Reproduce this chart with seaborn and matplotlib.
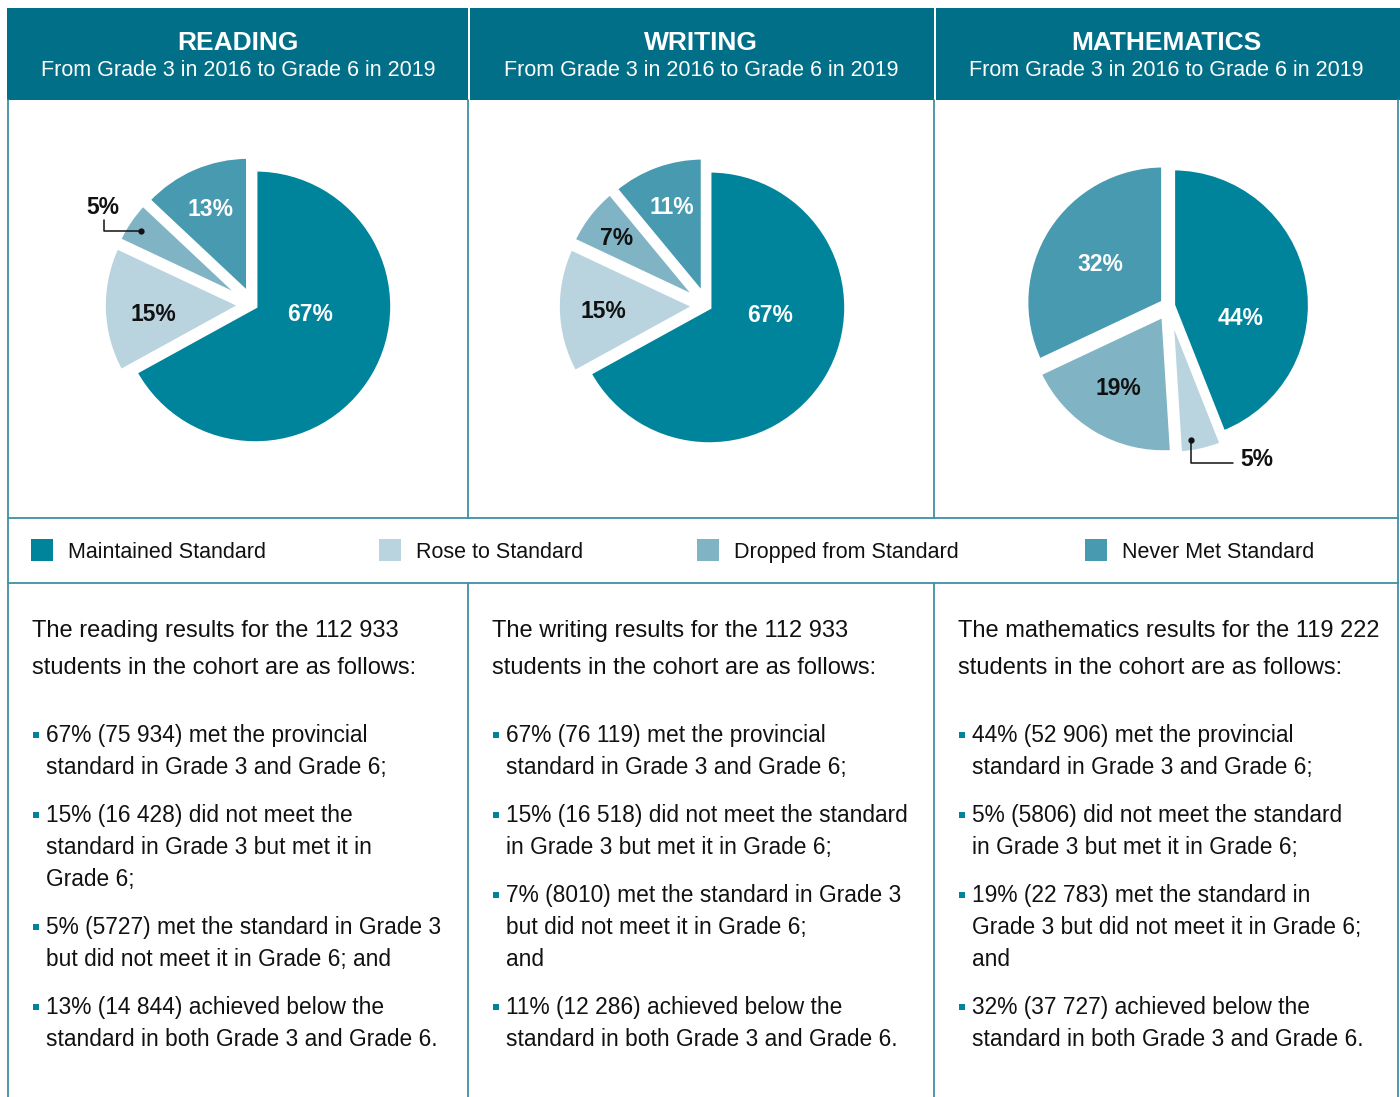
import numpy as np
import matplotlib.pyplot as plt
import matplotlib.patches as mpatches
import seaborn as sns

# ── Style ────────────────────────────────────────────────────
sns.set_theme(style="white")
plt.rcParams["font.family"] = ["Liberation Sans", "DejaVu Sans"]

HEADER = "#006F87"
LINE   = "#3F90A6"
COLORS = ["#00849C", "#B9D4DF", "#80B4C5", "#479AAF"]
LABEL_COLORS = ["white", "#111111", "#111111", "white"]

# ── Data ─────────────────────────────────────────────────────
subjects   = ["READING", "WRITING", "MATHEMATICS"]
subtitle   = "From Grade 3 in 2016 to Grade 6 in 2019"
categories = ["Maintained Standard", "Rose to Standard",
              "Dropped from Standard", "Never Met Standard"]
reading_pct = [67, 15, 5, 13]
writing_pct = [67, 15, 7, 11]
math_pct    = [44, 5, 19, 32]

reading_intro = ["The reading results for the 112 933",
                 "students in the cohort are as follows:"]
writing_intro = ["The writing results for the 112 933",
                 "students in the cohort are as follows:"]
math_intro    = ["The mathematics results for the 119 222",
                 "students in the cohort are as follows:"]

reading_bullets = [
    ["67% (75 934) met the provincial", "standard in Grade 3 and Grade 6;"],
    ["15% (16 428) did not meet the", "standard in Grade 3 but met it in", "Grade 6;"],
    ["5% (5727) met the standard in Grade 3", "but did not meet it in Grade 6; and"],
    ["13% (14 844) achieved below the", "standard in both Grade 3 and Grade 6."],
]
writing_bullets = [
    ["67% (76 119) met the provincial", "standard in Grade 3 and Grade 6;"],
    ["15% (16 518) did not meet the standard", "in Grade 3 but met it in Grade 6;"],
    ["7% (8010) met the standard in Grade 3", "but did not meet it in Grade 6;", "and"],
    ["11% (12 286) achieved below the", "standard in both Grade 3 and Grade 6."],
]
math_bullets = [
    ["44% (52 906) met the provincial", "standard in Grade 3 and Grade 6;"],
    ["5% (5806) did not meet the standard", "in Grade 3 but met it in Grade 6;"],
    ["19% (22 783) met the standard in", "Grade 3 but did not meet it in Grade 6;", "and"],
    ["32% (37 727) achieved below the", "standard in both Grade 3 and Grade 6."],
]

# ── Layout (pixels) ──────────────────────────────────────────
W, H = 1400, 1097
col_edges   = [8, 468, 934, 1398]
pie_centers = [(253, 305), (707, 306), (1169, 306)]
PIE_PX = 356  # axes size; radius 1 -> ~137 px
explodes = [[0.02, 0.09, 0.09, 0.09],
            [0.02, 0.09, 0.09, 0.09],
            [0.03, 0.08, 0.08, 0.05]]

# label positions in pie units; None -> callout
label_pos = [
    [(0.42, -0.07), (-0.73, -0.07), None, (-0.31, 0.70)],
    [(0.46, -0.07), (-0.76, -0.04), (-0.66, 0.49), (-0.26, 0.72)],
    [(0.52, -0.09), None, (-0.37, -0.60), (-0.50, 0.30)],
]
# callouts: text pos, line path (last point = dot)
callouts = [
    {2: ((-1.10, 0.71), [(-1.09, 0.62), (-1.09, 0.54), (-0.82, 0.54)])},
    {},
    {1: ((0.64, -1.12), [(0.47, -1.15), (0.16, -1.15), (0.16, -0.98)])},
]

fig = plt.figure(figsize=(W / 100, H / 100), dpi=100)
fig.patch.set_facecolor("white")
bg = fig.add_axes([0, 0, 1, 1])
bg.set_xlim(0, W)
bg.set_ylim(H, 0)
bg.axis("off")

# header band
bg.add_patch(mpatches.Rectangle((7, 8), W - 7, 92, color=HEADER, lw=0))
for x in col_edges[1:3]:
    bg.add_patch(mpatches.Rectangle((x, 8), 2, 92, color="white", lw=0))
for i, name in enumerate(subjects):
    cx = (col_edges[i] + col_edges[i + 1]) / 2
    bg.text(cx, 43, name, color="white", fontsize=19, fontweight="bold",
            ha="center", va="center")
    bg.text(cx, 70, subtitle, color="white", fontsize=15.5,
            ha="center", va="center")

# grid lines
lw = 1.3
bg.plot([8, 8], [100, H], color=LINE, lw=lw)
bg.plot([1398, 1398], [100, H], color=LINE, lw=lw)
for x in col_edges[1:3]:
    bg.plot([x, x], [100, 518], color=LINE, lw=lw)
    bg.plot([x, x], [583, H], color=LINE, lw=lw)
for y in [518, 583]:
    bg.plot([8, 1398], [y, y], color=LINE, lw=lw)

# legend row
legend_x = [31, 379, 697, 1085]
for x, c, name in zip(legend_x, COLORS, categories):
    bg.add_patch(mpatches.Rectangle((x, 539), 22, 22, color=c, lw=0))
    bg.text(x + 37, 558, name, fontsize=15.5, color="#111111",
            ha="left", va="baseline")

# pies
for i, vals in enumerate([reading_pct, writing_pct, math_pct]):
    cx, cy = pie_centers[i]
    ax = fig.add_axes([(cx - PIE_PX / 2) / W, 1 - (cy + PIE_PX / 2) / H,
                       PIE_PX / W, PIE_PX / H])
    ax.pie(vals, colors=COLORS, startangle=90, counterclock=False,
           explode=explodes[i],
           wedgeprops=dict(edgecolor="white", linewidth=3))
    ax.set_xlim(-1.3, 1.3)
    ax.set_ylim(-1.3, 1.3)
    ax.set_aspect("auto")
    ax.axis("off")
    for j, v in enumerate(vals):
        pos = label_pos[i][j]
        if pos is not None:
            ax.text(pos[0], pos[1], f"{v}%", color=LABEL_COLORS[j],
                    fontsize=16.5, fontweight="bold", ha="center", va="center")
        else:
            tpos, path = callouts[i][j]
            ax.text(tpos[0], tpos[1], f"{v}%", color="#111111",
                    fontsize=16.5, fontweight="bold", ha="center", va="center")
            xs, ys = zip(*path)
            ax.plot(xs, ys, color="#111111", lw=1.1, clip_on=False)
            ax.plot(xs[-1], ys[-1], "o", color="#111111", markersize=3.5)

# text blocks (baseline aligned)
intros  = [reading_intro, writing_intro, math_intro]
bullets = [reading_bullets, writing_bullets, math_bullets]
for i in range(3):
    x0 = col_edges[i] + 24
    for k, line in enumerate(intros[i]):
        bg.text(x0, 637 + 37 * k, line, fontsize=17, color="#111111",
                ha="left", va="baseline")
    y = 734
    for b in bullets[i]:
        bg.add_patch(mpatches.Rectangle((x0 + 1, y - 2), 6, 6,
                                        color=COLORS[0], lw=0))
        for line in b:
            bg.text(x0 + 14, y + 8, line, fontsize=16.4, color="#111111",
                    ha="left", va="baseline")
            y += 32
        y += 16

fig.savefig("out.png", dpi=100, facecolor="white")
